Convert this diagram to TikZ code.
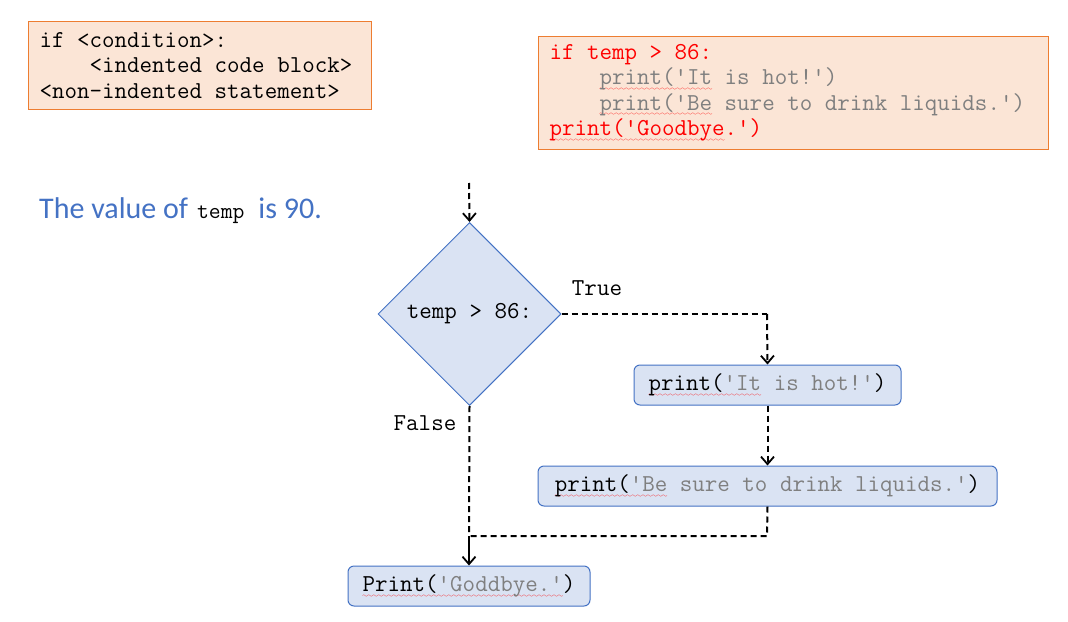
\documentclass[tikz,border=0pt]{standalone}
\usepackage{fontspec}
\setmainfont{Carlito}
\usetikzlibrary{shapes.geometric,arrows.meta}
\definecolor{orfill}{HTML}{FBE5D6}
\definecolor{ordraw}{HTML}{ED7D31}
\definecolor{blfill}{HTML}{DAE3F3}
\definecolor{bldraw}{HTML}{4472C4}
\definecolor{codegrey}{HTML}{7F7F7F}
\definecolor{codered}{HTML}{FF0000}
\definecolor{titleblue}{HTML}{4472C4}
\font\wavefont=lasy6
\newsavebox\sqwbox
\newcommand\sqw[1]{\sbox\sqwbox{#1}\rlap{\lower5.5pt\hbox to \wd\sqwbox{\color{red}\xleaders\hbox{\wavefont\char58}\hfill}}\usebox\sqwbox}
\newcommand\spc{\hphantom{x}}
\newcommand\ind{\hphantom{xxxx}}
\begin{document}
\begin{tikzpicture}[x=1pt,y=-1pt,
  code/.style={font=\ttfamily\fontsize{24.3}{25.5}\selectfont},
  codebox/.style={code, draw=ordraw, fill=orfill, line width=1pt, align=left, inner ysep=0pt, inner xsep=11pt},
  flowbox/.style={code, draw=bldraw, fill=blfill, line width=1pt, rounded corners=6pt, inner sep=0pt, minimum height=40},
  decision/.style={code, diamond, draw=bldraw, fill=blfill, line width=1pt, inner sep=0pt, minimum width=183, minimum height=183},
  lbl/.style={code, inner sep=0pt},
  conn/.style={line width=2pt, dash pattern=on 6pt off 4pt},
  arr/.style={-{Straight Barb[length=7.5pt,width=13pt,line width=1.8pt]}},
]
\useasboundingbox (0,0) rectangle (1068,621);
\fill[white] (0,0) rectangle (1068,621);

% code boxes
\node[codebox, text width=321, minimum height=88, anchor=north west] (syntax) at (28,21)
  {if\spc<condition>:\\\ind<indented\spc code\spc block>\\<non-indented\spc statement>};
\node[codebox, text width=488, minimum height=113, anchor=north west, yshift=-1.5pt] (example) at (538,34)
  {\textcolor{codered}{if\spc temp\spc>\spc86:}\\
   \ind\textcolor{codegrey}{\sqw{print('It}\spc is\spc hot!')}\\
   \ind\textcolor{codegrey}{\sqw{print('Be}\spc sure\spc to\spc drink\spc liquids.')}\\
   \textcolor{codered}{\sqw{print('Goodbye}.')}};

% title
\node[anchor=west, inner sep=0pt, text=titleblue, font=\fontsize{30}{35}\selectfont] (title) at (39,211)
  {The value of\hspace{9pt}\textcolor{black}{\ttfamily\fontsize{23}{24}\selectfont temp}\hspace{14pt}is 90.};

% flowchart
\coordinate (start) at (469,183);
\node[decision] (cond) at (469.5,314) {temp\spc>\spc86:};
\node[flowbox, minimum width=267] (hot) at (767.5,385)
  {\sqw{print(\textcolor{codegrey}{'It}}\textcolor{codegrey}{\spc is\spc hot!'})};
\node[flowbox, minimum width=459] (drink) at (767.5,486)
  {\sqw{print(\textcolor{codegrey}{'Be}}\textcolor{codegrey}{\spc sure\spc to\spc drink\spc liquids.'})};
\node[flowbox, minimum width=242] (bye) at (469,586)
  {\sqw{Print(\textcolor{codegrey}{'Goddbye.'}})};

\coordinate (tcorner) at (767,314);
\coordinate (jright) at (767,536);
\coordinate (join) at (469,536);

\draw[conn, arr] (start) -- (cond.north);
\draw[conn] (cond.east) -- (tcorner);
\draw[conn, arr] (tcorner) -- (hot.north);
\draw[conn, arr] (hot.south) -- (drink.north);
\draw[conn] (drink.south) -- (jright) -- (join);
\draw[conn] (cond.south) -- (join);
\draw[line width=2pt, arr] (join) -- (bye.north);

\node[lbl] (truelbl) at (597,288) {True};
\node[lbl] (falselbl) at (425,423) {False};
\end{tikzpicture}
\end{document}
